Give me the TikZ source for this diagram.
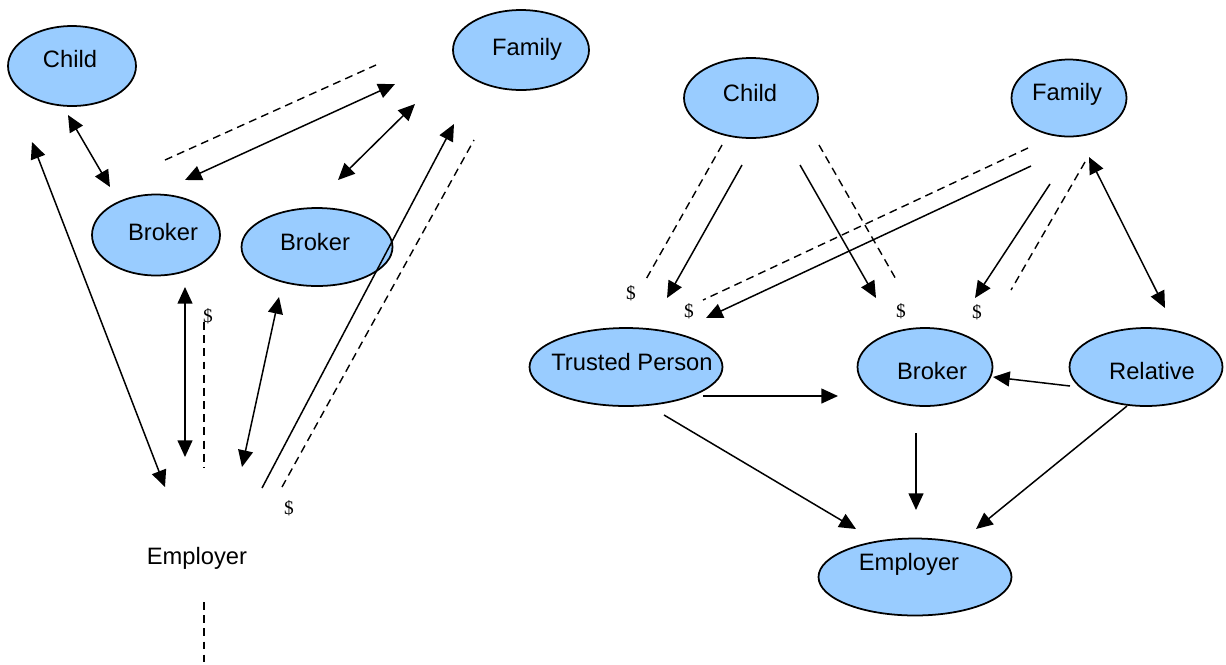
\documentclass[tikz,border=0pt]{standalone}
\usepackage{fontspec}
\setmainfont{Liberation Sans}
\newfontfamily\dollarfont{Liberation Serif}
\usetikzlibrary{shapes.geometric, arrows.meta}
\definecolor{nodeblue}{RGB}{153,204,255}
\tikzset{
  oval/.style={ellipse, draw=black, fill=nodeblue, line width=1pt, inner sep=0pt},
  arrow/.style={-{Triangle[length=9.5pt,width=8.5pt]}, line width=0.85pt},
  dblarrow/.style={{Triangle[length=9.5pt,width=8.5pt]}-{Triangle[length=9.5pt,width=8.5pt]}, line width=0.85pt},
  dashline/.style={line width=0.8pt, dash pattern=on 4.5pt off 3pt},
  money/.style={font=\dollarfont\fontsize{11}{13}\selectfont}
}

\begin{document}
\begin{tikzpicture}[x=0.02cm, y=-0.02cm, every node/.style={font=\fontsize{13.5}{16}\selectfont}]
  \useasboundingbox (0,0) rectangle (1226,664);

  % Left diagram: nodes
  \node[oval, minimum width=2.56cm, minimum height=1.6cm,
    label={[xshift=-0.04cm, yshift=0.14cm]center:Child}] (lchild) at (72,66) {};
  \node[oval, minimum width=2.72cm, minimum height=1.6cm,
    label={[xshift=0.12cm, yshift=0.02cm]center:Family}] (lfamily) at (521,50) {};
  \node[oval, minimum width=2.56cm, minimum height=1.62cm,
    label={[xshift=0.14cm, yshift=0.06cm]center:Broker}] (lbroker1) at (156,235) {};
  \node[oval, minimum width=3.02cm, minimum height=1.56cm,
    label={[xshift=-0.04cm, yshift=0.1cm]center:Broker}] (lbroker2) at (317,247) {};
  \node (lemployer) at (197,558) {Employer};

  % Left diagram: free ends
  \coordinate (lcb1) at (68,115);   \coordinate (lcb2) at (110,187);
  \coordinate (lce1) at (32,142);   \coordinate (lce2) at (165,487);
  \coordinate (lfd1) at (165,160);  \coordinate (lfd2) at (376,65);
  \coordinate (lfb1) at (185,180);  \coordinate (lfb2) at (395,84);
  \coordinate (lfb3) at (338,180);  \coordinate (lfb4) at (415,104);
  \coordinate (lef1) at (262,488);  \coordinate (lef2) at (454,124);
  \coordinate (lef3) at (282,487);  \coordinate (lef4) at (474,140);
  \coordinate (lbe1) at (185,287);  \coordinate (lbe2) at (185,457);
  \coordinate (lbe3) at (204,322);  \coordinate (lbe4) at (204,468);
  \coordinate (lbe5) at (279,297);  \coordinate (lbe6) at (242,467);
  \coordinate (lbot1) at (204,602); \coordinate (lbot2) at (204,662);

  % Left diagram: connectors
  \draw[dblarrow] (lcb1) -- (lcb2);
  \draw[dblarrow] (lce1) -- (lce2);
  \draw[dashline] (lfd1) -- (lfd2);
  \draw[dblarrow] (lfb1) -- (lfb2);
  \draw[dblarrow] (lfb3) -- (lfb4);
  \draw[arrow] (lef1) -- (lef2);
  \draw[dashline] (lef3) -- (lef4);
  \draw[dblarrow] (lbe1) -- (lbe2);
  \draw[dashline] (lbe3) -- (lbe4);
  \draw[dblarrow] (lbe5) -- (lbe6);
  \draw[dashline] (lbot1) -- (lbot2);
  \node[money] (ld1) at (208,316) {\$};
  \node[money] (ld2) at (289,508) {\$};

  % Right diagram: nodes
  \node[oval, minimum width=2.68cm, minimum height=1.6cm,
    label={[xshift=-0.02cm, yshift=0.1cm]center:Child}] (rchild) at (751,98) {};
  \node[oval, minimum width=2.3cm, minimum height=1.54cm,
    label={[xshift=-0.04cm, yshift=0.08cm]center:Family}] (rfamily) at (1069,98) {};
  \node[oval, minimum width=3.86cm, minimum height=1.56cm,
    label={[xshift=0.12cm, yshift=0.1cm]center:Trusted Person}] (trusted) at (626,367) {};
  \node[oval, minimum width=2.7cm, minimum height=1.56cm,
    label={[xshift=0.14cm, yshift=-0.08cm]center:Broker}] (rbroker) at (925,367) {};
  \node[oval, minimum width=3.06cm, minimum height=1.56cm,
    label={[xshift=0.12cm, yshift=-0.08cm]center:Relative}] (relative) at (1146,367) {};
  \node[oval, minimum width=3.86cm, minimum height=1.54cm,
    label={[xshift=-0.12cm, yshift=0.26cm]center:Employer}] (remployer) at (915,577) {};

  % Right diagram: free ends
  \coordinate (rcd1) at (722,145);  \coordinate (rcd2) at (645,281);
  \coordinate (rct1) at (742,165);  \coordinate (rct2) at (667,298);
  \coordinate (rcb1) at (800,165);  \coordinate (rcb2) at (876,298);
  \coordinate (rcd3) at (819,145);  \coordinate (rcd4) at (897,281);
  \coordinate (rfd1) at (1028,148); \coordinate (rfd2) at (703,300);
  \coordinate (rft1) at (1031,166); \coordinate (rft2) at (706,318);
  \coordinate (rfb1) at (1050,184); \coordinate (rfb2) at (975,298);
  \coordinate (rfd3) at (1085,162); \coordinate (rfd4) at (1011,290);
  \coordinate (rfr1) at (1089,157); \coordinate (rfr2) at (1165,308);
  \coordinate (rtb1) at (703,396);  \coordinate (rtb2) at (838,396);
  \coordinate (rrb1) at (1070,386); \coordinate (rrb2) at (993,377);
  \coordinate (rte1) at (664,415);  \coordinate (rte2) at (856,529);
  \coordinate (rbe1) at (916,433);  \coordinate (rbe2) at (916,510);
  \coordinate (rre1) at (1127,406); \coordinate (rre2) at (976,529);

  % Right diagram: connectors
  \draw[dashline] (rcd1) -- (rcd2);
  \draw[arrow] (rct1) -- (rct2);
  \draw[arrow] (rcb1) -- (rcb2);
  \draw[dashline] (rcd3) -- (rcd4);
  \draw[dashline] (rfd1) -- (rfd2);
  \draw[arrow] (rft1) -- (rft2);
  \draw[arrow] (rfb1) -- (rfb2);
  \draw[dashline] (rfd3) -- (rfd4);
  \draw[dblarrow] (rfr1) -- (rfr2);
  \draw[arrow] (rtb1) -- (rtb2);
  \draw[arrow] (rrb1) -- (rrb2);
  \draw[arrow] (rte1) -- (rte2);
  \draw[arrow] (rbe1) -- (rbe2);
  \draw[arrow] (rre1) -- (rre2);
  \node[money] (rd1) at (631,293) {\$};
  \node[money] (rd2) at (689,311) {\$};
  \node[money] (rd3) at (901,311) {\$};
  \node[money] (rd4) at (977,312) {\$};
\end{tikzpicture}
\end{document}
